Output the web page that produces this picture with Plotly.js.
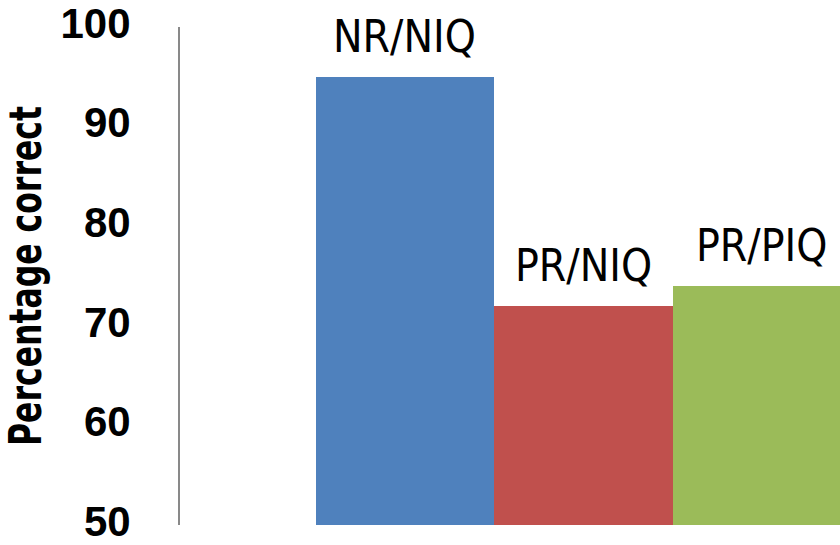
<!DOCTYPE html>
<html>
<head>
<meta charset="utf-8">
<script src="https://cdn.plot.ly/plotly-3.0.1.min.js"></script>
<style>html,body{margin:0;padding:0;background:#fff;}#chart{width:840px;height:545px;}</style>
</head>
<body>
<div id="chart"></div>
<script>
const categories = ["NR/NIQ", "PR/NIQ", "PR/PIQ"];
const values = [95, 72, 74];
const colors = ["#4F81BD", "#C0504D", "#9BBB59"];
const yTicks = [50, 60, 70, 80, 90, 100];
const yTitle = "Percentage correct";

const condensed = "DejaVu Sans Condensed, Liberation Sans Narrow, sans-serif";

const trace = {
  type: "bar",
  x: categories,
  y: values,
  base: 0,
  marker: { color: colors, line: { width: 0 } },
  width: 1,
  hoverinfo: "none",
  cliponaxis: true
};

const annotations = categories.map((c, i) => ({
  x: c, y: values[i], xref: "x", yref: "y",
  text: c, showarrow: false, yanchor: "bottom", xanchor: "center",
  yshift: 13,
  font: { family: condensed, size: 44, color: "#000" }
}));

const layout = {
  width: 840, height: 545,
  margin: { l: 180, r: 0, t: 27, b: 20, pad: 0 },
  paper_bgcolor: "#fff", plot_bgcolor: "#fff",
  showlegend: false,
  bargap: 0,
  xaxis: {
    type: "category",
    range: [-1.26, 2.437],
    showticklabels: false, showgrid: false, zeroline: false, showline: false, ticks: ""
  },
  yaxis: {
    range: [50, 100],
    tickvals: yTicks,
    ticktext: yTicks.map(String),
    showgrid: false, zeroline: false,
    showline: true, linecolor: "#898989", linewidth: 2,
    ticks: "", ticklabelstandoff: 39, ticklabelshift: -4, ticklabeloverflow: "allow",
    tickfont: { family: "Liberation Sans, Arial, sans-serif", size: 42, color: "#000", weight: "bold" },
    title: { text: yTitle, standoff: 9,
      font: { family: condensed, size: 44, color: "#000", weight: "bold" } },
    automargin: false
  },
  annotations: annotations
};

Plotly.newPlot("chart", [trace], layout, { displayModeBar: false, staticPlot: true }).then(gd => {
  const t = gd.querySelector(".ytitle");
  if (t) {
    t.setAttribute("textLength", "340");
    t.setAttribute("lengthAdjust", "spacingAndGlyphs");
  }
});
</script>
</body>
</html>
